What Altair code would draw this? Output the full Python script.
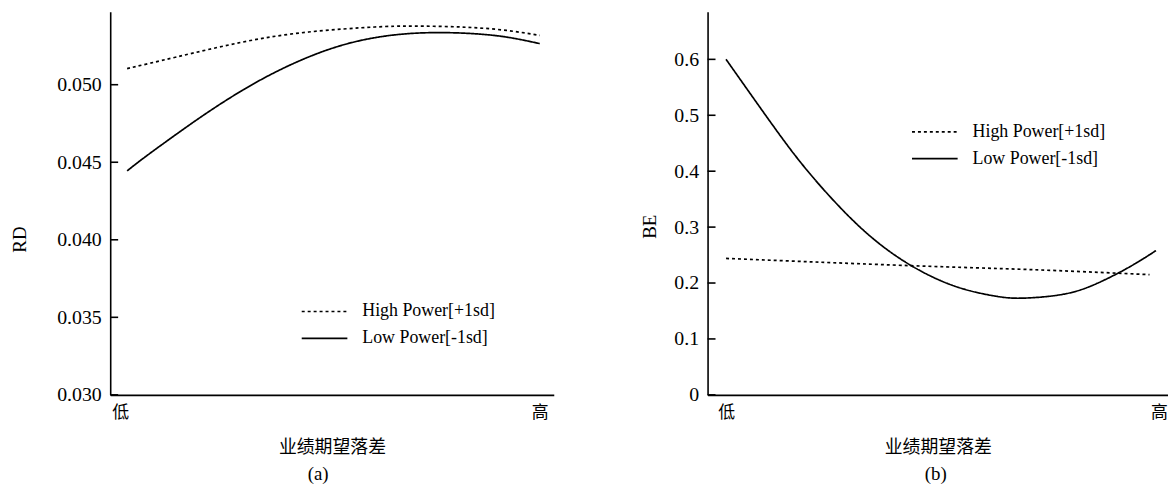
import altair as alt
import pandas as pd

SERIES = ["High Power[+1sd]", "Low Power[-1sd]"]

# Panel (a): RD
rd_x_high = [0, 0.12, 0.28, 0.44, 0.60, 0.68, 0.76, 0.84, 0.92, 1.0]
rd_high = [0.05104, 0.05179, 0.05275, 0.05340, 0.05372, 0.05378, 0.05376, 0.05368, 0.05350, 0.05318]
rd_x_low = [0, 0.04, 0.12, 0.20, 0.28, 0.36, 0.44, 0.52, 0.60, 0.68, 0.76, 0.84, 0.92, 1.0]
rd_low = [0.04444, 0.04527, 0.04682, 0.04830, 0.04965, 0.05082, 0.05179, 0.05254,
          0.05303, 0.05329, 0.05336, 0.05329, 0.05307, 0.05265]
rd_ticks = [0.030, 0.035, 0.040, 0.045, 0.050]

# Panel (b): BE
be_x_high = [0, 0.431, 0.708, 0.985]
be_high = [0.244, 0.231, 0.224, 0.215]
be_x_low = [0, 0.092, 0.169, 0.246, 0.323, 0.400, 0.477, 0.554, 0.631, 0.693,
            0.785, 0.862, 0.939, 1.0]
be_low = [0.600, 0.500, 0.420, 0.351, 0.292, 0.246, 0.212, 0.189, 0.176, 0.173,
          0.180, 0.199, 0.229, 0.258]
be_ticks = [0, 0.1, 0.2, 0.3, 0.4, 0.5, 0.6]

x_label_low = "低"
x_label_high = "高"
x_title = "业绩期望落差"

SERIF = "Liberation Serif"
CJK = "Noto Sans CJK SC"


def make_df(xh, yh, xl, yl):
    rows = [{"x": a, "y": b, "series": SERIES[0]} for a, b in zip(xh, yh)]
    rows += [{"x": a, "y": b, "series": SERIES[1]} for a, b in zip(xl, yl)]
    return pd.DataFrame(rows)


def panel(df, ticks, xdom, ydom, xvals, ytitle, ylabel_expr, width, title_text,
          title_x, title_y, leg_x, leg_y, title_dx):
    lines = alt.Chart(df).mark_line(color="black", strokeWidth=1.7, interpolate="natural").encode(
        x=alt.X("x:Q",
                scale=alt.Scale(domain=xdom, nice=False, zero=False),
                axis=alt.Axis(values=xvals,
                              labelExpr=f"datum.value < 0.5 ? '{x_label_low}' : '{x_label_high}'",
                              title=x_title)),
        y=alt.Y("y:Q",
                scale=alt.Scale(domain=ydom, nice=False, zero=False),
                axis=alt.Axis(values=ticks, labelExpr=ylabel_expr,
                              title=ytitle,
                              titleX=title_x, titleY=title_y, titleAngle=270,
                              titleAlign="center", titleBaseline="middle")),
        strokeDash=alt.StrokeDash(
            "series:N",
            scale=alt.Scale(domain=SERIES, range=[[3, 3], [1, 0]]),
            legend=alt.Legend(title=None, orient="none", legendX=leg_x, legendY=leg_y,
                              symbolType="stroke", symbolSize=2116, symbolStrokeWidth=1.7,
                              symbolStrokeColor="black", clipHeight=20,
                              labelFont=SERIF, labelFontSize=18, labelColor="black",
                              labelOffset=14, rowPadding=7, labelLimit=400)),
    )
    tdf = pd.DataFrame({"y": ticks})
    tick_marks = alt.Chart(tdf).mark_rule(color="black", strokeWidth=1.6).encode(
        x=alt.value(0), x2=alt.value(8), y=alt.Y("y:Q"))
    return alt.layer(lines, tick_marks).properties(
        width=width, height=386,
        title=alt.TitleParams(title_text, orient="bottom", font=SERIF, fontSize=19,
                              fontWeight="normal", color="black", frame="group",
                              offset=9, dx=title_dx))


rd_df = make_df(rd_x_high, rd_high, rd_x_low, rd_low)
be_df = make_df(be_x_high, be_high, be_x_low, be_low)

left = panel(rd_df, rd_ticks, [-0.041, 1.034], [0.030, 0.0547], [-0.017, 1.0], "RD",
             "format(datum.value, '.3f')", 447, "(a)", -91, 229, 192, 292, -14)
right = panel(be_df, be_ticks, [-0.043, 1.028], [0, 0.685], [0.0, 1.007], "BE",
              "datum.value == 0 ? '0' : format(datum.value, '.1f')", 464, "(b)", -58, 216,
              205, 111, -2)

chart = alt.hconcat(left, right, spacing=88).resolve_scale(
    strokeDash="independent", x="independent", y="independent"
).resolve_legend(strokeDash="independent").configure_view(stroke=None).configure_axis(
    ticks=False, grid=False, domainColor="black", domainWidth=1.6,
    labelColor="black", titleColor="black", titleFontWeight="normal", labelFlush=False
).configure_axisX(
    labelFont=CJK, labelFontSize=17, labelPadding=10,
    titleFont=CJK, titleFontSize=18, titlePadding=18
).configure_axisY(
    labelFont=SERIF, labelFontSize=20, labelPadding=9,
    titleFont=SERIF, titleFontSize=19
).properties(
    padding={"left": 3, "top": 2, "right": 0, "bottom": 0}, background="white")

chart.save("out.html", embed_options={"renderer": "svg", "actions": False})
